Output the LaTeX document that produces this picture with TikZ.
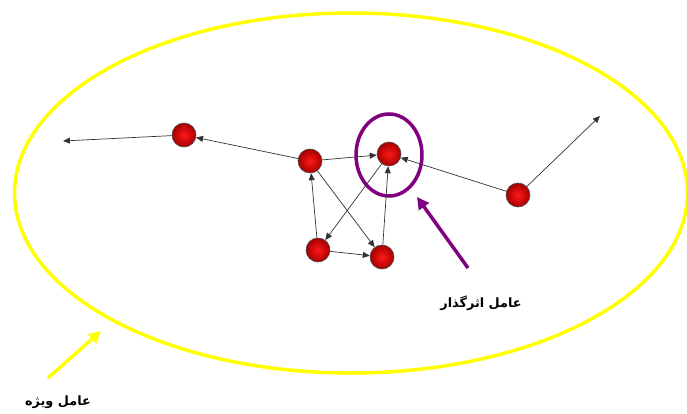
\documentclass[tikz,border=0pt]{standalone}
\usepackage{fontspec}
\newfontfamily\arabicfont[Script=Arabic]{DejaVu Sans}
\TeXXeTstate=1
\usetikzlibrary{arrows.meta,shapes.geometric}
\definecolor{ballin}{RGB}{255,25,25}
\definecolor{ballout}{RGB}{165,0,0}
\definecolor{ringpurple}{RGB}{128,0,128}
\definecolor{edgeyellow}{RGB}{255,255,0}
\begin{document}
\begin{tikzpicture}[x=1pt,y=-1pt,
  ball/.style={circle,minimum size=24pt,inner sep=0pt,draw=black!70,line width=0.6pt,inner color=ballin,outer color=ballout},
  conn/.style={-{Triangle[length=7pt,width=6pt]},line width=0.7pt,draw=black!80},
  bigarrow/.style={-{Triangle[length=12pt,width=12pt]},line width=3.5pt},
  lab/.style={font=\arabicfont\bfseries\fontsize{12.8}{14}\selectfont,inner sep=1pt}
]
\useasboundingbox (0,0) rectangle (687,414);
% outer yellow ellipse
\node[ellipse,draw=edgeyellow,line width=3.5pt,minimum width=673pt,minimum height=360pt,inner sep=0pt] (field) at (351,193) {};
% purple ring around the influential factor
\node[ellipse,draw=ringpurple,line width=3.5pt,minimum width=66pt,minimum height=82pt,inner sep=0pt] (ring) at (389,155) {};
% balls
\node[ball] (A) at (184,135) {};
\node[ball] (B) at (310,161) {};
\node[ball] (C) at (389,154) {};
\node[ball] (D) at (518,195) {};
\node[ball] (E) at (318,250) {};
\node[ball] (F) at (382,257) {};
\coordinate (L) at (63,141);
\coordinate (R) at (600,116);
% connectors
\draw[conn] (A) -- (L);
\draw[conn] (B) -- (A);
\draw[conn] (B) -- (C);
\draw[conn] (D) -- (C);
\draw[conn] (D) -- (R);
\draw[conn] (E) -- (B);
\draw[conn] (B) -- (F);
\draw[conn] (C) -- (E);
\draw[conn] (F) -- (C);
\draw[conn] (E) -- (F);
% pointer arrows
\coordinate (pa) at (468,268);
\coordinate (pb) at (417,197);
\draw[bigarrow,draw=ringpurple] (pa) -- (pb);
\coordinate (ya) at (48,378);
\coordinate (yb) at (101,331);
\draw[bigarrow,draw=edgeyellow] (ya) -- (yb);
% labels
\node[lab] (t1) at (481,303) {\beginR عامل اثرگذار\endR};
\node[lab] (t2) at (58,402) {\beginR عامل ویژه\endR};
\end{tikzpicture}
\end{document}
